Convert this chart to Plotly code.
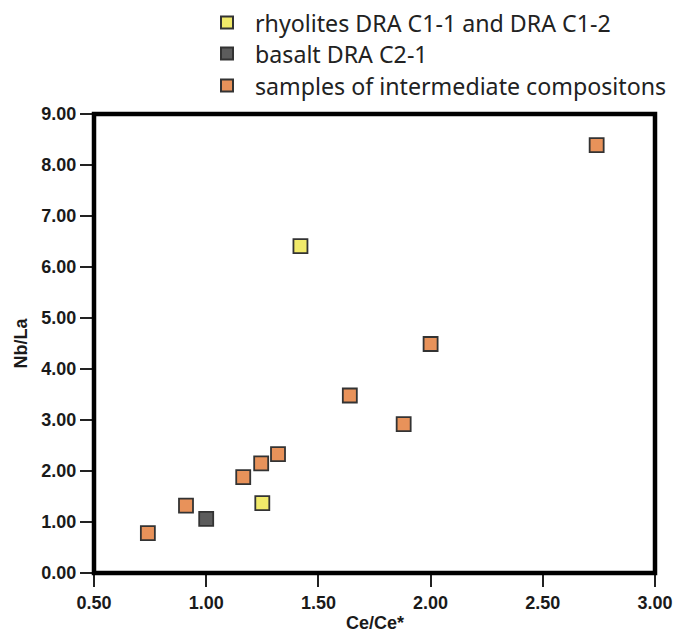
import plotly.graph_objects as go

# ── Data ──────────────────────────────────────────────────────────────────────
rhyolite_x = [1.25, 1.42]
rhyolite_y = [1.37, 6.41]

basalt_x = [1.00]
basalt_y = [1.06]

intermediate_x = [0.74, 0.91, 1.165, 1.245, 1.32, 1.64, 1.88, 2.00, 2.74]
intermediate_y = [0.78, 1.32, 1.88, 2.15, 2.33, 3.48, 2.92, 4.49, 8.39]

x_ticks = [0.5, 1.0, 1.5, 2.0, 2.5, 3.0]
y_ticks = [0, 1, 2, 3, 4, 5, 6, 7, 8, 9]

# ── Layout geometry ───────────────────────────────────────────────────────────
W, H = 676, 634
M_L, M_R, M_T, M_B = 94, 21, 114, 61
PLOT_W = W - M_L - M_R
PLOT_H = H - M_T - M_B

_EDGE = dict(color="#333333", width=1.8)
_BOLD = dict(family="Liberation Sans, Arial, sans-serif", size=18, color="#1a1a1a", weight="bold")
_LEGEND_FONT = dict(family="Noto Sans, Open Sans, sans-serif", size=23.2, color="#222222")

fig = go.Figure()

# one legend per series so each row can be placed like the reference
series = [
    ("rhyolites DRA C1-1 and DRA C1-2", rhyolite_x, rhyolite_y, "#f1ea6a", "legend", 23),
    ("basalt DRA C2-1", basalt_x, basalt_y, "#5c5c5c", "legend2", 54),
    ("samples of intermediate compositons", intermediate_x, intermediate_y, "#e8925a", "legend3", 86),
]
legends = {}
for name, xs, ys, color, leg, row_y in series:
    fig.add_trace(
        go.Scatter(
            x=xs,
            y=ys,
            mode="markers",
            name=name,
            legend=leg,
            marker=dict(symbol="square", size=14, color=color, line=_EDGE),
        )
    )
    legends[leg] = dict(
        x=199 / W,
        y=1 - row_y / H,
        xref="container",
        yref="container",
        xanchor="left",
        yanchor="middle",
        font=_LEGEND_FONT,
        itemwidth=46,
        itemsizing="constant",
        bgcolor="rgba(0,0,0,0)",
    )

axis_common = dict(
    showgrid=False,
    zeroline=False,
    showline=False,
    ticks="outside",
    ticklen=13,
    tickwidth=2,
    tickcolor="#222222",
    tickformat=".2f",
    tickfont=_BOLD,
)

fig.update_layout(
    width=W,
    height=H,
    paper_bgcolor="white",
    plot_bgcolor="white",
    margin=dict(l=M_L, r=M_R, t=M_T, b=M_B, autoexpand=False),
    showlegend=True,
    xaxis=dict(range=[0.5, 3.0], tickvals=x_ticks, **axis_common),
    yaxis=dict(range=[0, 9], tickvals=y_ticks, **axis_common),
    **legends,
)

# heavy black frame centred on the plot edges
fig.add_shape(
    type="rect",
    xref="paper", yref="paper",
    x0=0, x1=1, y0=0, y1=1,
    line=dict(color="black", width=4.5),
    layer="above",
)

# axis titles
fig.add_annotation(
    text="<b>Nb/La</b>",
    x=(20 - M_L) / PLOT_W, y=0.5,
    xref="paper", yref="paper",
    xanchor="center", yanchor="middle",
    showarrow=False, textangle=-90,
    font=_BOLD,
)
fig.add_annotation(
    text="<b>Ce/Ce*</b>",
    x=0.5, y=-50 / PLOT_H,
    xref="paper", yref="paper",
    xanchor="center", yanchor="middle",
    showarrow=False,
    font=_BOLD,
)

# drop the page's default body margin so the figure fills the window exactly
fig.write_html(
    "out.html",
    config={"displayModeBar": False},
    post_script="document.body.style.margin='0';document.body.style.overflow='hidden';",
)
